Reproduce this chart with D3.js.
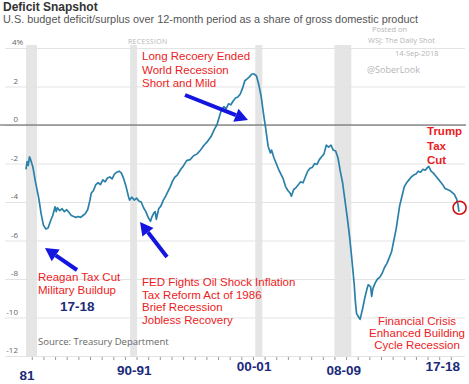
<!DOCTYPE html>
<html>
<head>
<meta charset="utf-8">
<script src="https://cdn.jsdelivr.net/npm/d3@7"></script>
<style>
  body { margin: 0; background: #fff; }
  svg { display: block; }
  .grid line { stroke: #e3e3e3; }
  .red { fill: #ec1c24; font-family: "Liberation Sans", Arial, sans-serif; font-size: 11.5px; }
  .navy { fill: #1b2a7a; font-family: "Liberation Sans", Arial, sans-serif; font-size: 13.5px; font-weight: bold; }
  .ylab { fill: #666; font-family: "Open Sans", sans-serif; font-size: 8px; }
  .faint { fill: #b5b5b5; font-family: "Open Sans", sans-serif; font-size: 7.5px; }
</style>
</head>
<body>
<div class="graph"></div>
<script>
// deficit/surplus as % of GDP (decimal year, value)
var years = [1981.5,1981.6,1981.7,1981.8,1981.9,1982.1,1982.3,1982.6,1982.8,1983.0,1983.2,1983.4,1983.6,1983.8,
  1984.0,1984.1,1984.2,1984.4,1984.6,1984.8,1985.0,1985.2,1985.4,1985.6,1985.8,1986.0,1986.2,1986.4,1986.6,1986.8,
  1987.0,1987.1,1987.3,1987.5,1987.7,1987.9,1988.1,1988.3,1988.5,1988.7,1988.9,1989.1,1989.3,1989.5,1989.7,1989.9,
  1990.1,1990.3,1990.4,1990.6,1990.8,1991.0,1991.2,1991.4,1991.6,1991.8,1992.0,1992.2,1992.3,1992.5,1992.6,1992.7,
  1992.9,1993.1,1993.3,1993.5,1993.7,1993.9,1994.1,1994.3,1994.5,1994.8,1995.0,1995.3,1995.6,1995.9,1996.2,1996.5,
  1996.8,1997.1,1997.4,1997.7,1997.9,1998.1,1998.3,1998.5,1998.7,1998.9,1999.1,1999.3,1999.5,1999.7,1999.9,
  2000.1,2000.3,2000.5,2000.7,2000.9,2001.1,2001.3,2001.5,2001.7,2001.9,2002.1,2002.3,2002.5,2002.6,2002.8,
  2003.0,2003.2,2003.4,2003.6,2003.8,2004.0,2004.2,2004.3,2004.5,2004.7,2004.9,2005.1,2005.3,2005.5,2005.7,2005.9,
  2006.1,2006.3,2006.5,2006.7,2006.9,2007.1,2007.3,2007.5,2007.7,2007.9,2008.1,2008.3,2008.5,2008.7,2008.9,
  2009.1,2009.3,2009.5,2009.7,2009.8,2009.9,2010.1,2010.2,2010.4,2010.6,2010.8,2010.9,2011.1,2011.2,2011.3,
  2011.5,2011.7,2011.9,2012.1,2012.3,2012.5,2012.7,2012.9,2013.1,2013.3,2013.5,2013.6,2013.8,2014.0,2014.2,
  2014.4,2014.6,2014.8,2015.0,2015.2,2015.4,2015.6,2015.8,2016.0,2016.1,2016.3,2016.5,2016.7,2016.9,2017.1,
  2017.3,2017.5,2017.7,2017.9,2018.1,2018.3,2018.5,2018.6,2018.7];
var deficit = [-2.3,-1.9,-2.1,-1.65,-1.8,-2.2,-2.9,-3.8,-4.6,-5.2,-5.4,-5.35,-5.0,-4.7,
  -4.25,-4.5,-4.3,-4.45,-4.35,-4.5,-4.4,-4.55,-4.7,-4.75,-4.8,-4.75,-4.8,-4.7,-4.6,-4.4,
  -3.9,-3.55,-3.4,-3.1,-3.0,-3.1,-2.85,-2.95,-2.75,-2.7,-2.8,-2.55,-2.45,-2.4,-2.5,-2.8,
  -3.2,-3.7,-3.9,-3.75,-3.9,-3.8,-3.95,-4.0,-4.3,-4.5,-4.8,-5.0,-4.8,-4.55,-4.5,-4.9,
  -4.35,-4.2,-3.9,-3.7,-3.45,-3.2,-2.9,-2.7,-2.6,-2.3,-2.15,-1.85,-1.8,-1.6,-1.5,-1.3,
  -1.05,-0.85,-0.6,-0.2,0.0,0.4,0.8,0.95,0.85,1.1,1.05,1.25,1.4,1.45,1.6,
  1.9,2.3,2.4,2.5,2.65,2.65,2.55,2.1,1.5,0.6,-0.2,-1.1,-1.45,-1.3,-1.7,
  -2.0,-2.3,-2.55,-2.8,-3.2,-3.4,-3.55,-3.7,-3.35,-3.25,-3.1,-2.95,-3.0,-2.7,-2.4,-2.25,
  -2.2,-2.0,-2.05,-1.8,-1.65,-1.5,-1.05,-1.15,-1.05,-1.3,-1.35,-1.7,-2.4,-3.0,-3.9,
  -4.8,-5.8,-7.0,-8.3,-9.2,-9.8,-10.0,-10.1,-9.6,-9.0,-8.5,-8.3,-8.4,-8.9,-8.5,
  -8.2,-8.0,-7.9,-7.7,-7.4,-7.2,-6.9,-6.6,-6.0,-5.4,-4.6,-4.2,-3.7,-3.2,-3.0,
  -2.85,-2.7,-2.6,-2.55,-2.4,-2.45,-2.3,-2.35,-2.2,-2.15,-2.4,-2.5,-2.65,-2.8,-2.95,
  -3.1,-3.3,-3.35,-3.4,-3.5,-3.6,-3.85,-4.1,-4.5];

var recessions = [[1981.5, 1982.45], [1990.45, 1991.05], [2001.2, 2001.8], [2008.0, 2009.45]];
var yTicks = [4, 2, 0, -2, -4, -6, -8, -10, -12];
var periodLabels = [["81", 1981.6], ["90-91", 1990.8], ["00-01", 2001.1], ["08-09", 2008.8], ["17-18", 2017.3]];

var width = 469, height = 384;

var x = d3.scaleLinear().domain([1980, 2019]).range([8.5, 462.5]);
var y = d3.scaleLinear().domain([-12, 4]).range([356, 48]);

var svg = d3.select(".graph").append("svg")
    .attr("width", width)
    .attr("height", height);

// recession bands
svg.selectAll(".rec")
    .data(recessions)
  .enter().append("rect")
    .attr("class", "rec")
    .attr("x", function(d) { return x(d[0]); })
    .attr("width", function(d) { return x(d[1]) - x(d[0]); })
    .attr("y", 45)
    .attr("height", 312)
    .attr("fill", "#e5e5e5");

// gridlines
svg.append("g")
    .attr("class", "grid")
    .attr("transform", "translate(5,0)")
    .call(d3.axisRight(y).tickValues(yTicks).tickSize(460).tickFormat(""))
    .call(function(g) { g.select(".domain").remove(); });

svg.selectAll(".ylab")
    .data(yTicks)
  .enter().append("text")
    .attr("class", "ylab")
    .attr("x", function(d) { return d == 4 ? 12 : 18; })
    .attr("y", function(d) { return y(d) - 3; })
    .attr("text-anchor", function(d) { return d == 4 ? "start" : "end"; })
    .text(function(d) { return d == 4 ? "4%" : d; });

// zero line
svg.append("line")
    .attr("x1", 0).attr("x2", 466)
    .attr("y1", y(0)).attr("y2", y(0))
    .attr("stroke", "#555")
    .attr("stroke-width", 1);

// year ticks along the bottom
svg.append("g")
    .attr("transform", "translate(0," + 357 + ")")
    .call(d3.axisBottom(x).tickValues(d3.range(1982, 2019)).tickSize(3).tickFormat(""))
    .call(function(g) {
      g.select(".domain").remove();
      g.selectAll("line").attr("stroke", "#999");
    });

// the series
var valueline = d3.line()
    .x(function(d, i) { return x(years[i]); })
    .y(function(d) { return y(d); });

svg.append("path")
    .datum(deficit)
    .attr("fill", "none")
    .attr("stroke", "#2a80a8")
    .attr("stroke-width", 1.7)
    .attr("stroke-linejoin", "round")
    .attr("d", valueline);

// header texts
svg.append("text")
    .attr("x", 3).attr("y", 11)
    .attr("fill", "#333")
    .style("font-family", "'Liberation Sans', Arial, sans-serif")
    .style("font-size", "12px")
    .style("font-weight", "bold")
    .text("Deficit Snapshot");

svg.append("text")
    .attr("x", 3).attr("y", 23)
    .attr("fill", "#555")
    .attr("textLength", 415)
    .attr("lengthAdjust", "spacingAndGlyphs")
    .style("font-family", "'Liberation Sans', Arial, sans-serif")
    .style("font-size", "10.5px")
    .text("U.S. budget deficit/surplus over 12-month period as a share of gross domestic product");

svg.append("text")
    .attr("class", "faint")
    .attr("x", 128).attr("y", 44)
    .attr("letter-spacing", "0.3")
    .style("font-size", "7px")
    .text("RECESSION");

var posted = [["Posted on", 372, 32], ["WSJ: The Daily Shot", 368, 43], ["14-Sep-2018", 395, 56]];
svg.selectAll(".posted")
    .data(posted)
  .enter().append("text")
    .attr("class", "faint")
    .attr("x", function(d) { return d[1]; })
    .attr("y", function(d) { return d[2]; })
    .text(function(d) { return d[0]; });

svg.append("text")
    .attr("class", "faint")
    .attr("x", 367).attr("y", 73)
    .style("font-size", "9px")
    .text("@SoberLook");

svg.append("text")
    .attr("x", 38).attr("y", 345)
    .attr("fill", "#666")
    .style("font-family", "'Open Sans', sans-serif")
    .style("font-size", "9.5px")
    .text("Source: Treasury Department");

// red annotations
function redBlock(lines, xPos, yPos, step, anchor, bold) {
  var t = svg.append("text")
      .attr("class", "red")
      .attr("text-anchor", anchor)
      .style("font-weight", bold ? "bold" : "normal");
  t.selectAll("tspan")
      .data(lines)
    .enter().append("tspan")
      .attr("x", xPos)
      .attr("y", function(d, i) { return yPos + i * step; })
      .text(function(d) { return d; });
}

redBlock(["Long Recoery Ended", "World Recession", "Short and Mild"], 142, 60, 13.5, "start", false);
redBlock(["Reagan Tax Cut", "Military Buildup"], 38, 281, 12.5, "start", false);
redBlock(["FED Fights Oil Shock Inflation", "Tax Reform Act of 1986", "Brief Recession", "Jobless Recovery"], 142, 286, 12.5, "start", false);
redBlock(["Financial Crisis", "Enhanced Building", "Cycle Recession"], 417, 325, 12, "middle", false);
redBlock(["Trump", "Tax", "Cut"], 427, 135, 14.5, "start", true);

svg.append("text")
    .attr("class", "navy")
    .attr("x", 60).attr("y", 311)
    .text("17-18");

svg.selectAll(".period")
    .data(periodLabels)
  .enter().append("text")
    .attr("class", "navy")
    .attr("text-anchor", "middle")
    .attr("x", function(d) { return x(d[1]); })
    .attr("y", function(d, i) { return [380, 375, 371, 375, 371][i]; })
    .text(function(d) { return d[0]; });

// blue arrows: [tailX, tailY, headX, headY]
var arrows = [[77, 270, 45, 248], [167, 257, 140, 222], [185, 95, 248, 120]];
arrows.forEach(function(a) {
  var ang = Math.atan2(a[3] - a[1], a[2] - a[0]);
  var len = 13, half = 7;
  var bx = a[2] - len * Math.cos(ang), by = a[3] - len * Math.sin(ang);
  svg.append("line")
      .attr("x1", a[0]).attr("y1", a[1])
      .attr("x2", bx).attr("y2", by)
      .attr("stroke", "#1515e0")
      .attr("stroke-width", 4);
  svg.append("polygon")
      .attr("points", [
        [a[2], a[3]],
        [bx + half * Math.sin(ang), by - half * Math.cos(ang)],
        [bx - half * Math.sin(ang), by + half * Math.cos(ang)]
      ].join(" "))
      .attr("fill", "#1515e0");
});

// circle on the latest reading
svg.append("circle")
    .attr("cx", x(2018.75)).attr("cy", y(-4.3))
    .attr("r", 6.5)
    .attr("fill", "none")
    .attr("stroke", "#cc1111")
    .attr("stroke-width", 1.6);
</script>
</body>
</html>
